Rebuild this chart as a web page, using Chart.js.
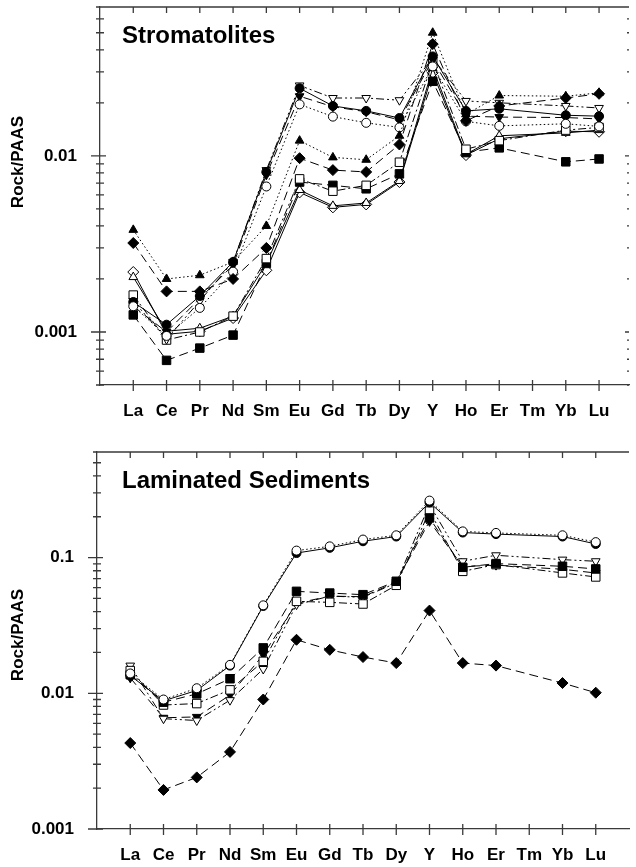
<!DOCTYPE html>
<html lang="en">
<head>
<meta charset="UTF-8">
<title>Stromatolites and Laminated Sediments - REE+Y / PAAS</title>
<script src="https://cdn.jsdelivr.net/npm/chart.js"></script>
<style>
  body { margin: 0; background: #ffffff; }
  .panel { position: absolute; left: 0; }
  #topPanel { top: 0; }
  #bottomPanel { top: 430px; }
</style>
</head>
<body>
<div class="panel" id="topPanel"><canvas id="stromChart" width="636" height="430"></canvas></div>
<div class="panel" id="bottomPanel"><canvas id="lamChart" width="636" height="437"></canvas></div>
<script>
// x categories (Tm has no analyses -> null)
const elements = ['La', 'Ce', 'Pr', 'Nd', 'Sm', 'Eu', 'Gd', 'Tb', 'Dy', 'Y', 'Ho', 'Er', 'Tm', 'Yb', 'Lu'];

// Stromatolites, Rock/PAAS
const stromTriUpFilled   = [0.0038, 0.0020, 0.0021, 0.0025, 0.0040, 0.0122, 0.0098, 0.0095, 0.0130, 0.050, 0.0172, 0.0220, null, 0.0218, 0.0228];
const stromDiamondFilled = [0.0032, 0.0017, 0.0017, 0.0020, 0.0030, 0.0097, 0.0083, 0.0081, 0.0116, 0.0431, 0.0158, 0.0192, null, 0.0213, 0.0225];
const stromCircleOpen    = [0.0014, 0.00095, 0.00137, 0.0022, 0.0067, 0.0196, 0.0167, 0.0154, 0.0145, 0.0322, 0.0157, 0.0148, null, 0.0152, 0.0147];
const stromCircleFilled  = [0.00148, 0.0011, 0.0016, 0.0025, 0.0081, 0.0242, 0.0192, 0.0180, 0.0164, 0.0367, 0.0180, 0.0185, null, 0.0170, 0.0168];
const stromTriDownOpen   = [0.0015, 0.00091, 0.0015, 0.0025, 0.0083, 0.0251, 0.0213, 0.0213, 0.0207, 0.0359, 0.0205, 0.0200, null, 0.0192, 0.0187];
const stromTriDownFilled = [0.0014, 0.0010, 0.00155, 0.0024, 0.0078, 0.0218, 0.0190, 0.0178, 0.0160, 0.0351, 0.0168, 0.0166, null, 0.0165, 0.0162];
const stromSquareOpen    = [0.00162, 0.0009, 0.0010, 0.00123, 0.00261, 0.0074, 0.0063, 0.0068, 0.0092, 0.0344, 0.0109, 0.0122, null, 0.0140, 0.0145];
const stromSquareFilled  = [0.00125, 0.00069, 0.00081, 0.00096, 0.00245, 0.0071, 0.0068, 0.0065, 0.0079, 0.0265, 0.0105, 0.0111, null, 0.00925, 0.0096];
const stromTriUpOpen     = [0.00205, 0.00101, 0.00105, 0.00123, 0.00245, 0.0064, 0.0052, 0.0054, 0.0072, 0.0315, 0.0102, 0.0130, null, 0.0135, 0.0140];
const stromDiamondOpen   = [0.00219, 0.00097, 0.00101, 0.0012, 0.00224, 0.0062, 0.0051, 0.0053, 0.0071, 0.0296, 0.0101, 0.0125, null, 0.0138, 0.0137];

// Laminated sediments, Rock/PAAS
const lamCircleOpen      = [0.0140, 0.0090, 0.0109, 0.0162, 0.0445, 0.1126, 0.121, 0.1358, 0.146, 0.263, 0.156, 0.152, null, 0.146, 0.130];
const lamCircleFilled    = [0.0135, 0.0088, 0.0105, 0.0160, 0.0440, 0.108, 0.118, 0.132, 0.143, 0.255, 0.153, 0.149, null, 0.143, 0.126];
const lamSquareFilled    = [0.0137, 0.0086, 0.0099, 0.0128, 0.0216, 0.0564, 0.0548, 0.0533, 0.0669, 0.196, 0.0848, 0.0903, null, 0.0863, 0.0825];
const lamSquareOpen      = [0.0147, 0.0082, 0.0084, 0.0106, 0.0172, 0.0476, 0.0468, 0.0455, 0.0625, 0.220, 0.0792, 0.0888, null, 0.0771, 0.0720];
const lamTriDownOpen     = [0.0160, 0.0065, 0.0063, 0.0089, 0.0151, 0.0450, 0.0520, 0.0510, 0.0650, 0.246, 0.094, 0.104, null, 0.0966, 0.094];
const lamTriDownFilled   = [0.0130, 0.0066, 0.0067, 0.0097, 0.0192, 0.0460, 0.0520, 0.0515, 0.0660, 0.185, 0.086, 0.088, null, 0.082, 0.077];
const lamDiamondFilled   = [0.0043, 0.00194, 0.0024, 0.0037, 0.0090, 0.0248, 0.0209, 0.0185, 0.0167, 0.0407, 0.0167, 0.0160, null, 0.0119, 0.0101];

// labelled y ticks
const stromYTicks = [0.001, 0.01];
const lamYTicks = [0.001, 0.01, 0.1];

const FONT = '"Liberation Sans", Arial, sans-serif';
const AXIS = '#3a3a3a';
const DOT = [1.5, 2.5];
const DASH = [9, 5];
const DASHDOT = [8, 3, 2, 3];
const DASHDOTDOT = [8, 3, 2, 3, 2, 3];
const SOLID = [];

function series(values, shape, filled, dash, rotation) {
  let r = 5;
  if (shape === 'circle') r = 4.5;
  if (shape === 'rect') r = 6;
  if (shape === 'rectRot') r = 5.5;
  return {
    data: values.map((v, i) => ({ x: i + 1, y: v })).filter(p => p.y !== null),
    borderColor: '#000',
    borderWidth: 1,
    borderDash: dash,
    pointStyle: shape,
    pointRotation: rotation || 0,
    pointRadius: r,
    pointHoverRadius: r,
    pointBackgroundColor: filled ? '#000' : '#fff',
    pointBorderColor: '#000',
    pointBorderWidth: 1,
    tension: 0,
    fill: false
  };
}

// ticks, top frame, panel title and y-axis title
function framePlugin(title, titleDx, yTitleY, rightTicks) {
  return {
    id: 'frame',
    afterDraw(chart) {
      const { ctx, chartArea: a, scales: { x, y } } = chart;
      ctx.save();
      ctx.strokeStyle = AXIS;
      ctx.lineWidth = 1.3;
      ctx.beginPath();
      ctx.moveTo(a.left, a.top);
      ctx.lineTo(a.right, a.top);
      elements.forEach((e, i) => {
        const px = x.getPixelForValue(i + 1);
        ctx.moveTo(px, a.top);
        ctx.lineTo(px, a.top + 6);
        ctx.moveTo(px, a.bottom - 5);
        ctx.lineTo(px, a.bottom + 6);
      });
      const lo = Math.floor(Math.log10(y.min));
      const hi = Math.ceil(Math.log10(y.max));
      for (let d = lo; d <= hi; d++) {
        for (let m = 1; m < 10; m++) {
          const v = m * Math.pow(10, d);
          if (v < y.min * 0.999 || v > y.max * 1.001) continue;
          const py = y.getPixelForValue(v);
          const major = m === 1;
          ctx.moveTo(a.left - (major ? 9 : 4), py);
          ctx.lineTo(a.left + (major ? 6 : 4), py);
          if (rightTicks) {
            ctx.moveTo(a.right - (major ? 4 : 2), py);
            ctx.lineTo(a.right, py);
          }
        }
      }
      ctx.stroke();
      ctx.fillStyle = '#000';
      ctx.font = 'bold 24px ' + FONT;
      ctx.textBaseline = 'alphabetic';
      ctx.textAlign = 'left';
      ctx.fillText(title, a.left + titleDx, a.top + 36);
      ctx.font = 'bold 17px ' + FONT;
      ctx.textAlign = 'center';
      ctx.textBaseline = 'middle';
      ctx.translate(18, yTitleY);
      ctx.rotate(-Math.PI / 2);
      ctx.fillText('Rock/PAAS', 0, 0);
      ctx.restore();
    }
  };
}

function options(yMin, yMax, yTicks, xMax, leftWidth, bottomHeight, topPad) {
  return {
    responsive: false,
    animation: false,
    layout: { padding: { top: topPad, right: 0, left: 0, bottom: 0 } },
    plugins: { legend: { display: false }, tooltip: { enabled: false } },
    scales: {
      x: {
        type: 'linear',
        min: 0,
        max: xMax,
        afterBuildTicks: s => { s.ticks = elements.map((e, i) => ({ value: i + 1 })); },
        afterFit: s => { s.height = bottomHeight; s.paddingLeft = 0; s.paddingRight = 0; },
        grid: { display: false },
        border: { display: true, color: AXIS, width: 1.3 },
        ticks: {
          autoSkip: false,
          maxRotation: 0,
          padding: 8,
          color: '#000',
          font: { family: FONT, size: 17, weight: 'bold' },
          callback: v => elements[v - 1]
        }
      },
      y: {
        type: 'logarithmic',
        min: yMin,
        max: yMax,
        afterBuildTicks: s => { s.ticks = yTicks.map(v => ({ value: v })); },
        afterFit: s => { s.width = leftWidth; s.paddingTop = 0; s.paddingBottom = 0; },
        grid: { display: false },
        border: { display: true, color: AXIS, width: 1.3 },
        ticks: {
          padding: 15,
          color: '#000',
          font: { family: FONT, size: 17, weight: 'bold' },
          callback: v => String(v)
        }
      }
    }
  };
}

new Chart(document.getElementById('stromChart'), {
  type: 'line',
  data: {
    datasets: [
      series(stromTriUpFilled, 'triangle', true, DOT),
      series(stromDiamondFilled, 'rectRot', true, DASH),
      series(stromCircleOpen, 'circle', false, DOT),
      series(stromCircleFilled, 'circle', true, SOLID),
      series(stromTriDownOpen, 'triangle', false, DASHDOTDOT, 180),
      series(stromTriDownFilled, 'triangle', true, DASH, 180),
      series(stromSquareOpen, 'rect', false, DASHDOT),
      series(stromSquareFilled, 'rect', true, DASH),
      series(stromTriUpOpen, 'triangle', false, SOLID),
      series(stromDiamondOpen, 'rectRot', false, SOLID)
    ]
  },
  options: options(0.0005, 0.07, stromYTicks, 15.9, 100, 45, 6),
  plugins: [framePlugin('Stromatolites', 22, 162, true)]
});

new Chart(document.getElementById('lamChart'), {
  type: 'line',
  data: {
    datasets: [
      series(lamCircleOpen, 'circle', false, DOT),
      series(lamCircleFilled, 'circle', true, SOLID),
      series(lamSquareFilled, 'rect', true, DASH),
      series(lamSquareOpen, 'rect', false, DASHDOT),
      series(lamTriDownOpen, 'triangle', false, DASHDOTDOT, 180),
      series(lamTriDownFilled, 'triangle', true, DASH, 180),
      series(lamDiamondFilled, 'rectRot', true, DASH)
    ]
  },
  options: options(0.001, 0.6, lamYTicks, 16, 97, 38, 22),
  plugins: [framePlugin('Laminated Sediments', 25, 205, false)]
});
</script>
</body>
</html>
